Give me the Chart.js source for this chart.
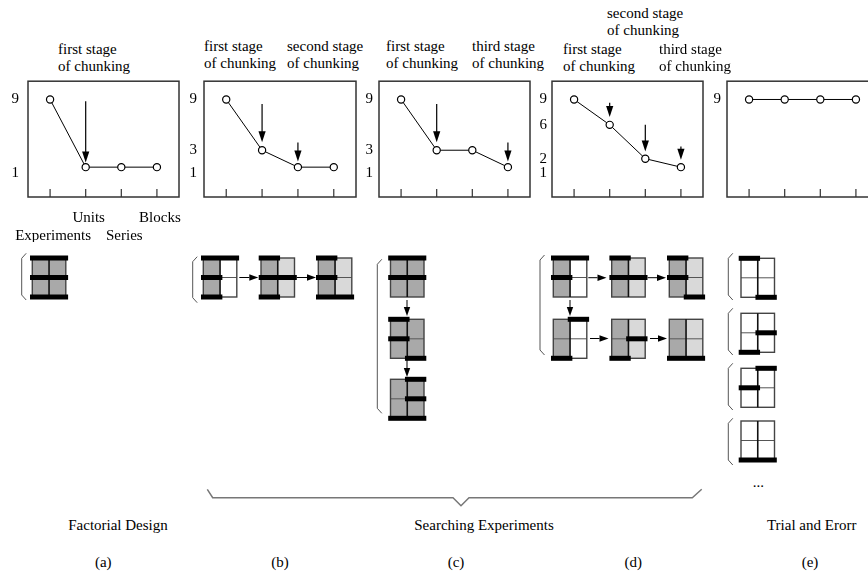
<!DOCTYPE html>
<html><head><meta charset="utf-8">
<script src="https://cdn.jsdelivr.net/npm/chart.js@4"></script>
<style>
html,body{margin:0;padding:0;background:#fff;width:868px;height:574px;overflow:hidden;position:relative;font-family:"Liberation Serif","Times New Roman",serif;}
.cv{position:absolute;}
.t{position:absolute;font-size:15px;line-height:17px;color:#000;white-space:nowrap;}
.c{transform:translateX(-50%);text-align:center;}
svg{position:absolute;left:0;top:0;}
</style></head><body>
<script>
// ---------- data ----------
const xCategories = ['Experiments', 'Units', 'Series', 'Blocks'];
const seriesA = [9, 1, 1, 1];
const seriesB = [9, 3, 1, 1];
const seriesC = [9, 3, 3, 1];
const seriesD = [9, 6, 2, 1];
const seriesE = [9, 9, 9, 9];
const yTicksA = [9, 1];
const yTicksB = [9, 3, 1];
const yTicksC = [9, 3, 1];
const yTicksD = [9, 6, 2, 1];
const yTicksE = [9];
// arrows: [category index, from value, to value]
const arrowsA = [[1, 8.8, 1.55]];
const arrowsB = [[1, 8.47, 3.94], [2, 3.92, 1.67]];
const arrowsC = [[1, 8.47, 3.94], [3, 3.92, 1.67]];
const arrowsD = [[1, 8.6, 6.94], [2, 6.01, 2.86], [3, 3.44, 1.86]];
const arrowsE = [];
const panelLetters = ['(a)', '(b)', '(c)', '(d)', '(e)'];
const groupNames = ['Factorial Design', 'Searching Experiments', 'Trial and Erorr'];
const stageTitles = {
  a: [['first stage', 'of chunking']],
  b: [['first stage', 'of chunking'], ['second stage', 'of chunking']],
  c: [['first stage', 'of chunking'], ['third stage', 'of chunking']],
  d: [['first stage', 'of chunking'], ['second stage', 'of chunking'], ['third stage', 'of chunking']]
};

const FONT = '"Liberation Serif", "Times New Roman", serif';

// ---------- charts ----------
const boxPlugin = {
  id: 'boxPlugin',
  afterDatasetsDraw(chart) {
    const ctx = chart.ctx, a = chart.chartArea;
    const xs = chart.scales.x, ys = chart.scales.y;
    ctx.save();
    ctx.strokeStyle = '#333';
    ctx.lineWidth = 1.5;
    ctx.strokeRect(a.left, a.top, a.right - a.left, a.bottom - a.top);
    ctx.lineWidth = 1.2;
    xs.ticks.forEach(t => {
      const px = xs.getPixelForValue(t.value);
      ctx.beginPath(); ctx.moveTo(px, a.bottom); ctx.lineTo(px, a.bottom - 8); ctx.stroke();
    });
    const arrows = chart.options.plugins.boxPlugin.arrows || [];
    ctx.strokeStyle = '#000'; ctx.fillStyle = '#000'; ctx.lineWidth = 1.2;
    arrows.forEach(([i, from, to]) => {
      const px = xs.getPixelForValue(i);
      const y0 = ys.getPixelForValue(from), y1 = ys.getPixelForValue(to);
      const hl = Math.min(11, y1 - y0);
      if (y1 - y0 > hl + 0.5) {
        ctx.beginPath(); ctx.moveTo(px, y0); ctx.lineTo(px, y1 - hl + 1); ctx.stroke();
      }
      ctx.beginPath(); ctx.moveTo(px, y1); ctx.lineTo(px - 3.6, y1 - hl); ctx.lineTo(px + 3.6, y1 - hl); ctx.closePath(); ctx.fill();
    });
    ctx.restore();
  }
};

function noPad(s) { s.paddingTop = 0; s.paddingBottom = 0; s.paddingLeft = 0; s.paddingRight = 0; }

function makeChart(box, series, yTicks, arrows, xLabels, yPad) {
  const cv = document.createElement('canvas');
  const W = box.w + 40 + 10, H = box.h + 5 + 45;
  cv.width = W; cv.height = H;
  cv.className = 'cv';
  cv.style.left = (box.l - 40) + 'px';
  cv.style.top = (box.t - 5) + 'px';
  cv.style.width = W + 'px'; cv.style.height = H + 'px';
  document.body.appendChild(cv);
  new Chart(cv, {
    type: 'line',
    data: { datasets: [{
      data: series.map((v, i) => ({ x: i, y: v })),
      borderColor: '#000', borderWidth: 1, tension: 0,
      pointRadius: 3.6, pointBackgroundColor: '#fff', pointBorderColor: '#000', pointBorderWidth: 1.2
    }]},
    options: {
      responsive: false, animation: false, devicePixelRatio: 1,
      layout: { padding: { top: 5, right: 10, left: 0, bottom: 0 } },
      plugins: { legend: { display: false }, tooltip: { enabled: false }, boxPlugin: { arrows } },
      scales: {
        x: {
          type: 'linear', min: -0.62, max: 3.62,
          grid: { display: false, drawTicks: false }, border: { display: false },
          afterBuildTicks: s => { s.ticks = xCategories.map((c, i) => ({ value: i })); },
          afterFit: s => { s.height = 45; noPad(s); },
          ticks: {
            padding: 12, maxRotation: 0, autoSkip: false, color: '#000', labelOffset: 3,
            font: { family: FONT, size: 15, lineHeight: 1.2 },
            callback: (v, i) => xLabels ? (i % 2 === 1 ? [xLabels[i]] : ['', xLabels[i]]) : ''
          }
        },
        y: {
          type: 'linear', min: -2.53, max: 11.16,
          grid: { display: false, drawTicks: false }, border: { display: false },
          afterBuildTicks: s => { s.ticks = yTicks.map(v => ({ value: v })); },
          afterFit: s => { s.width = 40; noPad(s); },
          ticks: {
            padding: yPad, color: '#000', font: { family: FONT, size: 15, lineHeight: 0.8 },
            callback: v => (v === 1 ? ['', String(v)] : String(v))
          }
        }
      }
    },
    plugins: [boxPlugin]
  });
}

makeChart({ l: 27.7, t: 81, w: 151.3, h: 116 }, seriesA, yTicksA, arrowsA, xCategories, 9);
makeChart({ l: 204.3, t: 81, w: 152, h: 116 }, seriesB, yTicksB, arrowsB, null, 7);
makeChart({ l: 378.5, t: 81, w: 151.5, h: 116 }, seriesC, yTicksC, arrowsC, null, 6);
makeChart({ l: 551.7, t: 81, w: 151.6, h: 116 }, seriesD, yTicksD, arrowsD, null, 5);
makeChart({ l: 726.5, t: 81, w: 151.5, h: 116 }, seriesE, yTicksE, arrowsE, null, 6);

// ---------- titles ----------
function text(lines, x, y, center) {
  const d = document.createElement('div');
  d.className = 't' + (center ? ' c' : '');
  d.style.left = x + 'px'; d.style.top = y + 'px';
  d.innerHTML = lines.join('<br>');
  document.body.appendChild(d);
}
text(stageTitles.a[0], 58, 40.5);
text(stageTitles.b[0], 204, 37.5);
text(stageTitles.b[1], 287, 37.5);
text(stageTitles.c[0], 386, 37.5);
text(stageTitles.c[1], 472, 37.5);
text(stageTitles.d[0], 563, 40.5);
text(stageTitles.d[1], 607, 4.5);
text(stageTitles.d[2], 659, 40.5);

text([groupNames[0]], 118, 516.5, true);
text([groupNames[1]], 484, 516.5, true);
text([groupNames[2]], 811.7, 516.5, true);
[103.3, 280, 456, 633.3, 810].forEach((x, i) => text([panelLetters[i]], x, 553.5, true));
text(['...'], 758.3, 474, true);

// ---------- diagram glyphs (SVG) ----------
const NS = 'http://www.w3.org/2000/svg';
const svg = document.createElementNS(NS, 'svg');
svg.setAttribute('width', 868); svg.setAttribute('height', 574);
document.body.appendChild(svg);
function el(tag, attrs) {
  const e = document.createElementNS(NS, tag);
  for (const k in attrs) e.setAttribute(k, attrs[k]);
  svg.appendChild(e); return e;
}
const COL = { D: '#a9a9a9', L: '#d9d9d9', W: '#ffffff' };
const GW = 33.5, GH = 39;
function glyph(x, y, fills, bars) {
  const cw = GW / 2, ch = GH / 2;
  const f = fills.split('');
  el('rect', { x: x, y: y, width: cw, height: ch, fill: COL[f[0]] });
  el('rect', { x: x + cw, y: y, width: cw, height: ch, fill: COL[f[1]] });
  el('rect', { x: x, y: y + ch, width: cw, height: ch, fill: COL[f[2]] });
  el('rect', { x: x + cw, y: y + ch, width: cw, height: ch, fill: COL[f[3]] });
  el('line', { x1: x, y1: y + ch, x2: x + GW, y2: y + ch, stroke: '#555', 'stroke-width': 1 });
  el('rect', { x: x, y: y, width: GW, height: GH, fill: 'none', stroke: '#444', 'stroke-width': 1.4 });
  el('line', { x1: x + cw, y1: y, x2: x + cw, y2: y + GH, stroke: '#111', 'stroke-width': 1.6 });
  bars.forEach(b => {
    const yy = b[0] === 't' ? y : b[0] === 'm' ? y + ch : y + GH;
    let x0, x1;
    if (b[1] === 'L') { x0 = x - 2.3; x1 = x + cw + 2.3; }
    else if (b[1] === 'R') { x0 = x + cw - 2.3; x1 = x + GW + 2.3; }
    else { x0 = x - 2.3; x1 = x + GW + 2.3; }
    el('rect', { x: x0, y: yy - 2.5, width: x1 - x0, height: 5, fill: '#000' });
  });
}
function bracket(x, y0, y1) {
  el('polyline', { points: `${x + 4.5},${y0} ${x},${y0 + 5} ${x},${y1 - 5} ${x + 4.5},${y1}`, fill: 'none', stroke: '#555', 'stroke-width': 1 });
}
function arrow(x0, y0, x1, y1) {
  const dx = x1 - x0, dy = y1 - y0, len = Math.hypot(dx, dy), ux = dx / len, uy = dy / len;
  const hl = 9, hw = 3.2;
  el('line', { x1: x0, y1: y0, x2: x1 - ux * hl, y2: y1 - uy * hl, stroke: '#000', 'stroke-width': 1 });
  const bx = x1 - ux * hl, by = y1 - uy * hl;
  el('polygon', { points: `${x1},${y1} ${bx - uy * hw},${by + ux * hw} ${bx + uy * hw},${by - ux * hw}`, fill: '#000' });
}

bracket(21.7, 253.3, 300);
glyph(32.3, 258, 'DDDD', ['tA', 'mA', 'bA']);

bracket(192.7, 256.7, 302.7);
glyph(203.3, 258, 'DWDW', ['tA', 'mL', 'bL']);
arrow(239.3, 277.5, 258.3, 277.5);
glyph(261, 258, 'DLDL', ['tL', 'mA', 'bL']);
arrow(296.7, 277.5, 316, 277.5);
glyph(318.3, 258, 'DLDL', ['tL', 'mL', 'bA']);

bracket(377.3, 259.3, 413.3);
glyph(390.5, 258, 'DDDD', ['tA', 'mA']);
arrow(407, 300, 407, 316);
glyph(390.5, 319.3, 'DDDD', ['tL', 'mL', 'bR']);
arrow(407, 360, 407, 377);
glyph(390.5, 379.3, 'DDDD', ['tR', 'mR', 'bA']);

bracket(540, 255, 355);
glyph(553.3, 258, 'DWDW', ['tA', 'mL']);
arrow(588.3, 277.7, 606.5, 277.7);
glyph(611.7, 258, 'DLDL', ['tL', 'mA']);
arrow(647.7, 277.7, 666, 277.7);
glyph(669.3, 258, 'DLDL', ['tL', 'mL', 'bR']);
arrow(570, 300, 570, 316);
glyph(553.3, 319.3, 'DWDW', ['tR', 'bL']);
arrow(590, 338.5, 608.5, 338.5);
glyph(611.7, 319.3, 'DLDL', ['mR', 'bL']);
arrow(650, 338.5, 667, 338.5);
glyph(669.3, 319.3, 'DLDL', ['bA']);

bracket(728.3, 253.3, 300);
glyph(741, 258.3, 'WWWW', ['tL', 'bR']);
bracket(728.3, 308.3, 355);
glyph(741, 313.3, 'WWWW', ['mR', 'bL']);
bracket(728.3, 363.3, 410);
glyph(741, 368.3, 'WWWW', ['tR', 'mL']);
bracket(728.3, 418.3, 465);
glyph(741, 421, 'WWWW', ['bA']);

// big brace
el('polyline', { points: '207.3,489.3 212.7,497.7 453,497.7 461,505.7 469,497.7 692.3,497.7 701.7,489.3', fill: 'none', stroke: '#777', 'stroke-width': 1.5 });
</script>
</body></html>
